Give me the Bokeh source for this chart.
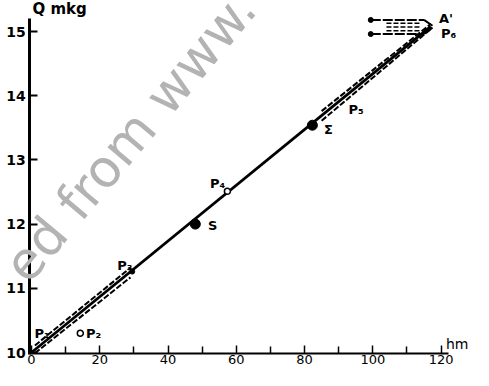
from bokeh.plotting import figure
from bokeh.models import Range1d, FixedTicker, Label, LabelSet, ColumnDataSource
from bokeh.core.properties import value
from bokeh.embed import file_html
from bokeh.resources import INLINE

# ---------------- data ----------------
x_ticks = [0, 20, 40, 60, 80, 100, 120]
x_minor = [10, 30, 50, 70, 90, 110]
y_ticks = [10, 11, 12, 13, 14, 15]

line_x = [0, 117]
line_y = [10.0, 15.08]

band_low_x = [1, 29]
band_low_top = [10.11, 11.32]
band_low_bot = [9.99, 11.17]

band_up_x = [85, 117]
band_up_top = [13.76, 15.12]
band_up_bot = [13.61, 15.04]

h_x = [99.4, 115]
h_top_y = [15.18, 15.18]
h_bot_y = [14.96, 14.96]
join_x = [115, 117.5]
join_top_y = [15.18, 15.09]
join_bot_y = [14.96, 15.06]
hd_x = [104, 114]
hd_levels = [15.13, 15.07, 15.01]

big_x = [48, 82.3]
big_y = [12.0, 13.54]
open_x = [57.4, 14.3]
open_y = [12.51, 10.30]
small_x = [99.4, 99.4, 29.5]
small_y = [15.18, 14.96, 11.26]

lbl_text = ["P\u2081", "P\u2082", "P\u2083", "P\u2084", "S", "\u03a3", "P\u2085", "P\u2086", "A'"]
lbl_x = [0.9, 16.0, 25.1, 52.3, 51.7, 85.7, 92.9, 120.0, 119.4]
lbl_y = [10.29, 10.29, 11.35, 12.64, 11.98, 13.48, 13.79, 14.97, 15.21]

# ---------------- layout ----------------
W, H = 473, 370
PXU_X = 3.413      # pixels per hm
PXU_Y = 64.2       # pixels per mkg
X0 = 31            # pixel column of x = 0
Y10 = 352          # pixel row of y = 10


def ref_to_data(px, py):
    # position (page pixels) -> data units
    return (px - 37) / 3.5, 10 + (368 - py) / 65.8


p = figure(width=W, height=H,
           x_range=Range1d(-X0 / PXU_X, (W - X0) / PXU_X),
           y_range=Range1d(10 - (H - Y10) / PXU_Y, 10 + Y10 / PXU_Y),
           output_backend="svg", toolbar_location=None,
           min_border=0, min_border_left=0, min_border_right=0,
           min_border_top=0, min_border_bottom=0)
p.outline_line_color = None
p.grid.visible = False
p.background_fill_color = "white"

# watermark
wx, wy = ref_to_data(138, 147)
p.add_layout(Label(x=wx, y=wy, text="ed from www.", angle=50, angle_units="deg",
                   text_align="center", text_baseline="middle",
                   text_font="DejaVu Sans", text_font_size="52px",
                   text_color="#b3b3b3"))

# axes
ya = p.yaxis[0]
ya.fixed_location = -0.5
ya.bounds = (9.97, 15.2)
ya.ticker = FixedTicker(ticks=y_ticks, minor_ticks=[])
ya.axis_line_width = 3
ya.major_tick_in = 8
ya.major_tick_out = 0
ya.major_tick_line_width = 2
ya.minor_tick_in = 0
ya.minor_tick_out = 0
ya.major_label_text_font = "DejaVu Sans"
ya.major_label_text_font_style = "bold"
ya.major_label_text_font_size = "14px"
ya.major_label_text_color = "black"
ya.major_label_standoff = 4

xa = p.xaxis[0]
xa.fixed_location = 9.985
xa.bounds = (-0.6, 122.3)
xa.ticker = FixedTicker(ticks=x_ticks, minor_ticks=x_minor)
xa.axis_line_width = 2
xa.major_tick_in = 8
xa.major_tick_out = 0
xa.major_tick_line_width = 1.5
xa.minor_tick_in = 7
xa.minor_tick_out = 0
xa.minor_tick_line_width = 1.5
xa.minor_tick_line_color = "black"
xa.major_label_text_font = "DejaVu Sans"
xa.major_label_text_font_size = "13px"
xa.major_label_text_color = "black"
xa.major_label_standoff = 2

# lines
p.line(line_x, line_y, line_color="black", line_width=2.8)
for yy in (band_low_top, band_low_bot):
    p.line(band_low_x, yy, line_color="black", line_width=2, line_dash="6 2")
for yy in (band_up_top, band_up_bot):
    p.line(band_up_x, yy, line_color="black", line_width=2, line_dash="6 2")
p.line(h_x, h_top_y, line_color="black", line_width=2, line_dash="10 2")
p.line(h_x, h_bot_y, line_color="black", line_width=2, line_dash="10 2")
p.line(join_x, join_top_y, line_color="black", line_width=2)
p.line(join_x, join_bot_y, line_color="black", line_width=2)
for lev in hd_levels:
    p.line(hd_x, [lev, lev], line_color="black", line_width=1.5, line_dash="5 2")

# points
p.scatter(big_x, big_y, size=10, color="black")
p.scatter(open_x, open_y, size=6, fill_color="white", line_color="black", line_width=1.5)
p.scatter(small_x, small_y, size=5, color="black")

# point labels
src = ColumnDataSource(dict(x=lbl_x, y=lbl_y, t=lbl_text))
p.add_layout(LabelSet(x="x", y="y", text="t", source=src, text_align="left",
                      text_baseline="middle", text_font=value("DejaVu Sans"),
                      text_font_style=value("bold"), text_font_size=value("13px"),
                      text_color="black"))

# axis titles
qx, qy = ref_to_data(38, 16)
p.add_layout(Label(x=qx, y=qy, text="Q mkg", text_align="left", text_baseline="middle",
                   text_font="DejaVu Sans", text_font_style="bold", text_font_size="15px",
                   text_color="black"))
hx, hy = ref_to_data(462, 359)
p.add_layout(Label(x=hx, y=hy, text="hm", text_align="left", text_baseline="middle",
                   text_font="DejaVu Sans", text_font_size="14px", text_color="black"))

open("out.html", "w").write(file_html(p, INLINE))
